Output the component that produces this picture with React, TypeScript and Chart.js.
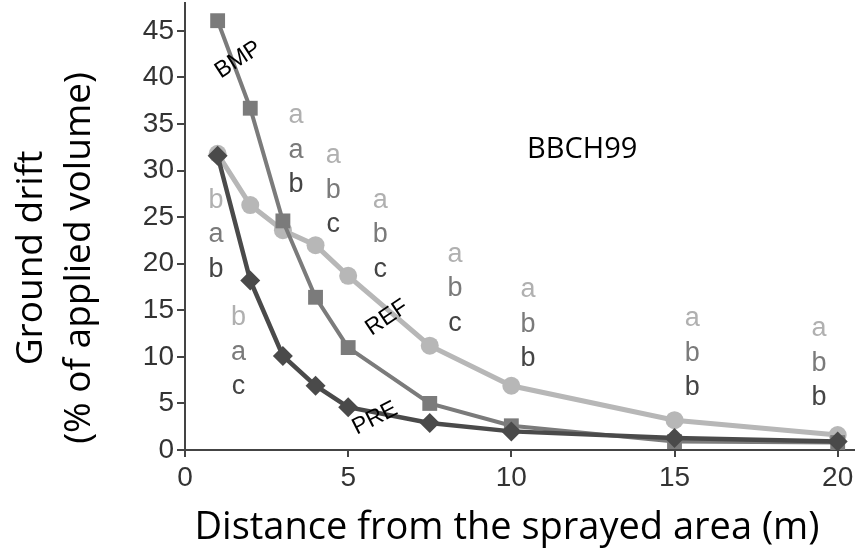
import { useEffect, useRef } from 'react';
import { Chart, registerables } from 'chart.js';

Chart.register(...registerables);

// ---- data ----
const distances = [1, 2, 3, 4, 5, 7.5, 10, 15, 20];
const refValues = [31.8, 26.3, 23.6, 22.0, 18.7, 11.2, 6.9, 3.2, 1.6];
const bmpValues = [46.1, 36.7, 24.6, 16.4, 11.0, 5.0, 2.6, 0.9, 0.8];
const preValues = [31.6, 18.2, 10.1, 6.9, 4.6, 2.9, 2.0, 1.3, 0.9];

const xTicks = [0, 5, 10, 15, 20];
const yTicks = [0, 5, 10, 15, 20, 25, 30, 35, 40, 45];

// significance letters (columns: REF / BMP / PRE)
const letterX = [0.95, 1.64, 3.4, 4.54, 5.98, 8.27, 10.51, 15.54, 19.43];
const letterTopY = [26.0, 13.4, 35.1, 30.8, 26.0, 20.2, 16.4, 13.3, 12.2];
const refLetters = ['b', 'b', 'a', 'a', 'a', 'a', 'a', 'a', 'a'];
const bmpLetters = ['a', 'a', 'a', 'b', 'b', 'b', 'b', 'b', 'b'];
const preLetters = ['b', 'c', 'b', 'c', 'c', 'c', 'b', 'b', 'b'];

const seriesLabels = ['BMP', 'REF', 'PRE'];
const seriesLabelX = [1.63, 6.19, 5.82];
const seriesLabelY = [41.9, 14.2, 3.4];
const seriesLabelAngle = [-33, -34, -27];

const stageLabel = 'BBCH99';
const xTitle = 'Distance from the sprayed area (m)';
const yTitle = ['Ground drift', '(% of applied volume)'];

const REF_COLOR = '#b7b7b7';
const BMP_COLOR = '#7b7b7b';
const PRE_COLOR = '#4a4a4a';
const LETTER_COLORS = ['#b0b0b0', '#7a7a7a', '#454545'];

const AREA_TOP = 3;
const AREA_RIGHT = 854;

const annotationPlugin = {
  id: 'annotations',
  afterLayout(chart: any) {
    const ca = chart.chartArea;
    ca.top = AREA_TOP;
    ca.right = AREA_RIGHT;
    ca.height = ca.bottom - ca.top;
    ca.width = ca.right - ca.left;
    const xs = chart.scales.x;
    const ys = chart.scales.y;
    ys.top = AREA_TOP;
    ys.height = ys.bottom - ys.top;
    xs.right = AREA_RIGHT;
    xs.width = xs.right - xs.left;
    xs.configure();
    ys.configure();
  },
  afterDatasetsDraw(chart: any) {
    const ctx = chart.ctx;
    const xs = chart.scales.x;
    const ys = chart.scales.y;
    ctx.save();
    // letters
    ctx.font = '27px "Liberation Sans", Arial, sans-serif';
    ctx.textAlign = 'center';
    ctx.textBaseline = 'alphabetic';
    const rows = [refLetters, bmpLetters, preLetters];
    for (let i = 0; i < letterX.length; i++) {
      const px = xs.getPixelForValue(letterX[i]);
      const py = ys.getPixelForValue(letterTopY[i]);
      rows.forEach((row, r) => {
        ctx.fillStyle = LETTER_COLORS[r];
        ctx.fillText(row[i], px, py + r * 34.5);
      });
    }
    // series labels
    ctx.fillStyle = '#000';
    ctx.font = '23px "Liberation Sans", Arial, sans-serif';
    ctx.textBaseline = 'middle';
    for (let i = 0; i < seriesLabels.length; i++) {
      ctx.save();
      ctx.translate(xs.getPixelForValue(seriesLabelX[i]), ys.getPixelForValue(seriesLabelY[i]));
      ctx.rotate((seriesLabelAngle[i] * Math.PI) / 180);
      ctx.fillText(seriesLabels[i], 0, 0);
      ctx.restore();
    }
    // stage label
    ctx.font = '29px "Open Sans", sans-serif';
    ctx.fillText(stageLabel, xs.getPixelForValue(12.17), ys.getPixelForValue(32.2));
    ctx.restore();
  },
  afterDraw(chart: any) {
    const ctx = chart.ctx;
    ctx.save();
    ctx.fillStyle = '#000';
    ctx.font = '38px "Open Sans", sans-serif';
    ctx.textAlign = 'center';
    ctx.textBaseline = 'middle';
    ctx.fillText(xTitle, 507, 528);
    ctx.save();
    ctx.translate(0, 258);
    ctx.rotate(-Math.PI / 2);
    ctx.font = '37px "Open Sans", sans-serif';
    ctx.fillText(yTitle[0], 0, 31);
    ctx.fillText(yTitle[1], 0, 79);
    ctx.restore();
    ctx.restore();
  },
};

export default function App() {
  const ref = useRef<HTMLCanvasElement | null>(null);

  useEffect(() => {
    document.body.style.margin = '0';
    const canvas = ref.current;
    if (!canvas) return;
    const mk = (vals: number[]) => distances.map((d, i) => ({ x: d, y: vals[i] }));
    const chart = new Chart(canvas, {
      type: 'line',
      data: {
        datasets: [
          {
            label: 'PRE',
            data: mk(preValues),
            borderColor: PRE_COLOR,
            backgroundColor: PRE_COLOR,
            borderWidth: 4.5,
            pointStyle: 'rectRot',
            pointRadius: 10,
            pointBorderWidth: 0,
            tension: 0,
          },
          {
            label: 'BMP',
            data: mk(bmpValues),
            borderColor: BMP_COLOR,
            backgroundColor: BMP_COLOR,
            borderWidth: 4,
            pointStyle: 'rect',
            pointRadius: 10.5,
            pointBorderWidth: 0,
            tension: 0,
          },
          {
            label: 'REF',
            data: mk(refValues),
            borderColor: REF_COLOR,
            backgroundColor: REF_COLOR,
            borderWidth: 5,
            pointStyle: 'circle',
            pointRadius: 9,
            pointBorderWidth: 0,
            tension: 0,
          },
        ],
      },
      options: {
        responsive: false,
        animation: false,
        devicePixelRatio: 1,
        layout: { padding: { left: 0, top: 3, right: 2, bottom: 0 } },
        plugins: { legend: { display: false }, tooltip: { enabled: false } },
        scales: {
          x: {
            type: 'linear',
            min: 0,
            max: 20.5,
            afterFit: (s: any) => {
              s.height = 103;
            },
            afterBuildTicks: (s: any) => {
              s.ticks = xTicks.map((v) => ({ value: v }));
            },
            grid: { display: true, drawOnChartArea: false, drawTicks: true, tickLength: 7, color: '#444', lineWidth: 2 },
            border: { display: true, color: '#444', width: 2 },
            ticks: { color: '#333', padding: 4, font: { family: '"Liberation Sans", Arial, sans-serif', size: 28 }, maxRotation: 0 },
          },
          y: {
            type: 'linear',
            min: 0,
            max: 48,
            afterFit: (s: any) => {
              s.width = 185;
            },
            afterBuildTicks: (s: any) => {
              s.ticks = yTicks.map((v) => ({ value: v }));
            },
            grid: { display: true, drawOnChartArea: false, drawTicks: true, tickLength: 8, color: '#444', lineWidth: 2 },
            border: { display: true, color: '#444', width: 2 },
            ticks: { color: '#333', padding: 3, font: { family: '"Liberation Sans", Arial, sans-serif', size: 28 } },
          },
        },
      },
      plugins: [annotationPlugin],
    } as any);
    return () => chart.destroy();
  }, []);

  return (
    <div style={{ position: 'fixed', left: 0, top: 0, width: 856, height: 553, background: '#fff' }}>
      <canvas ref={ref} width={856} height={553} style={{ width: 856, height: 553 }} />
    </div>
  );
}
